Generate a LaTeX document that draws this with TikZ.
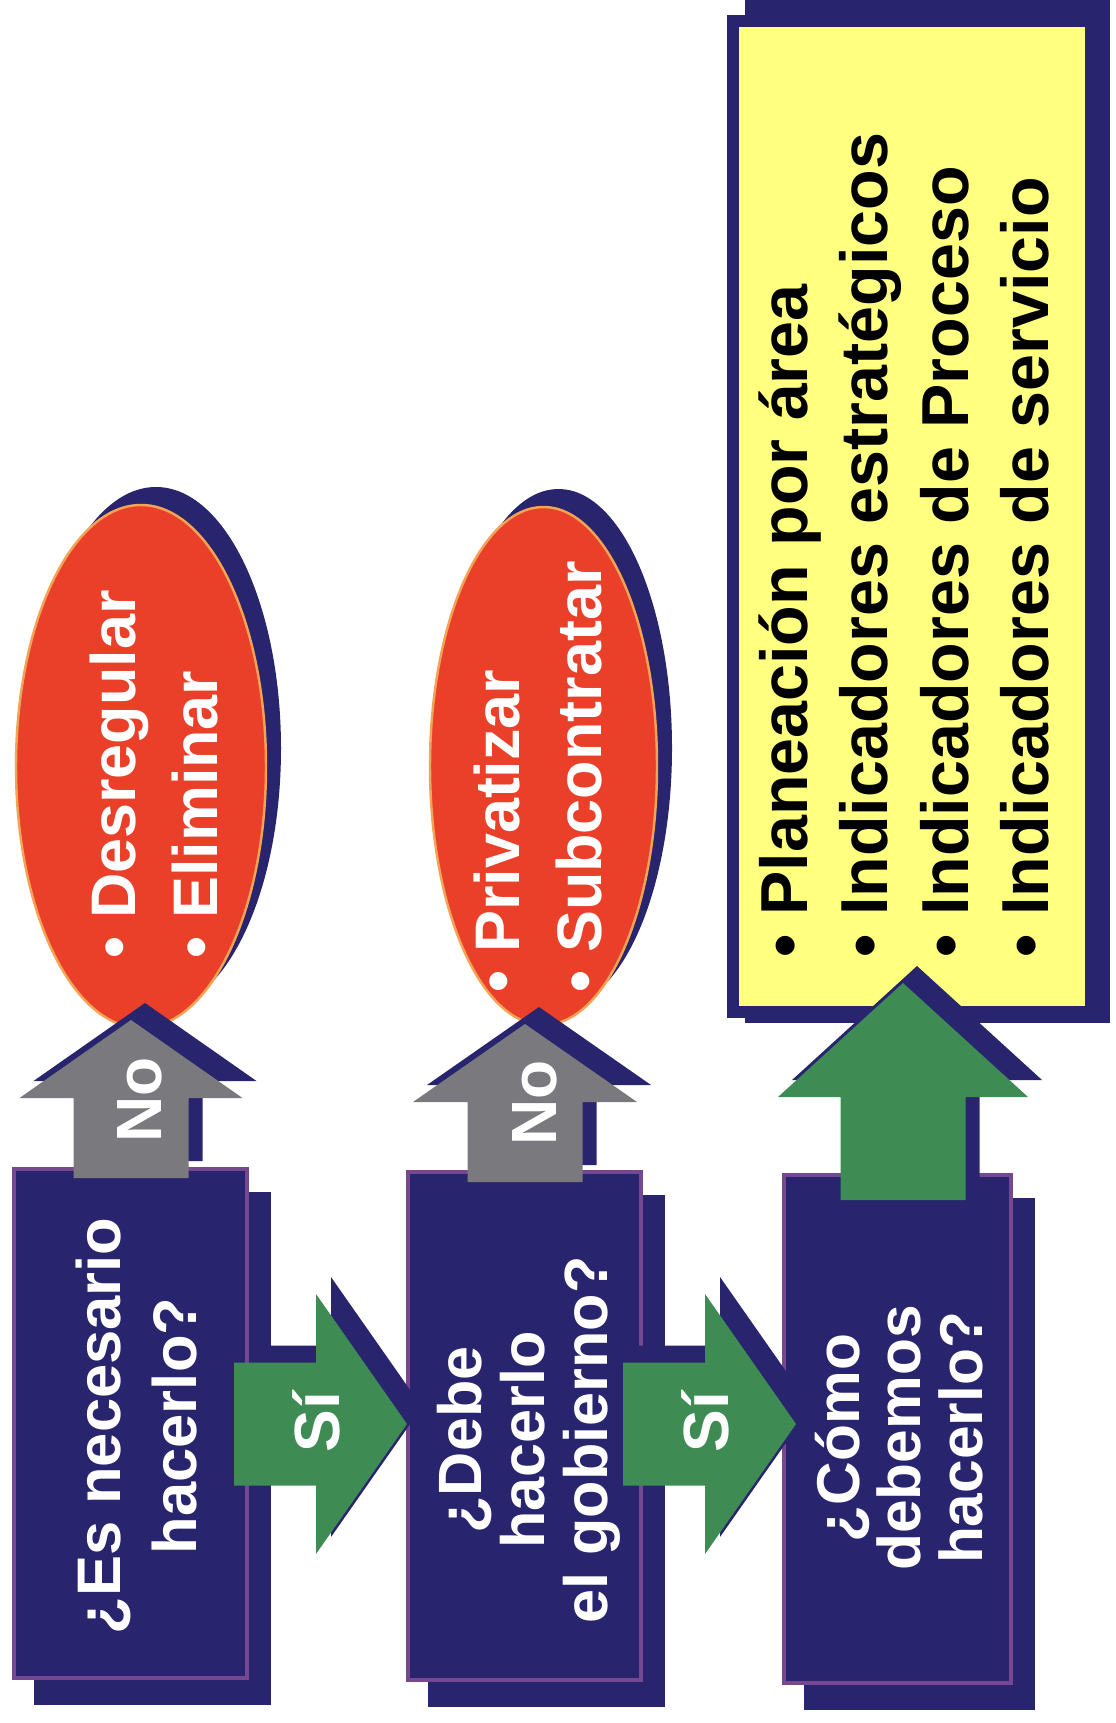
\documentclass[tikz,border=0pt]{standalone}
\usepackage{fontspec}
\setmainfont{Liberation Sans}

\definecolor{navy}{RGB}{40,37,110}
\definecolor{lilac}{RGB}{118,72,146}
\definecolor{leaf}{RGB}{62,139,84}
\definecolor{slate}{RGB}{122,122,126}
\definecolor{tomato}{RGB}{234,64,42}
\definecolor{peach}{RGB}{244,162,84}
\definecolor{lemon}{RGB}{255,255,128}

\tikzset{
  qbox/.style={fill=navy, draw=lilac, line width=1pt},
  oval/.style={fill=tomato, draw=peach, line width=0.7pt},
  listbox/.style={fill=lemon, draw=navy, line width=3.4pt},
  qtext/.style={rotate=90, text=white, align=center, inner sep=0pt},
  otext/.style={rotate=90, text=white, align=left, anchor=west, inner sep=0pt,
    font=\bfseries\fontsize{17.9}{23.3}\selectfont},
  arrtext/.style={rotate=90, text=white, inner sep=0pt,
    font=\bfseries\fontsize{18.2}{18.2}\selectfont}
}

\begin{document}
\begin{tikzpicture}[x=0.1mm, y=-0.1mm]
\useasboundingbox (0,0) rectangle (1115,1723);

%Shadows
\foreach \l/\t/\r/\b in {12/1167/249/1680, 406/1170/643/1682, 782/1173/1013/1685}
  \fill[navy] (\l+22,\t+25) rectangle (\r+22,\b+25);
\fill[navy] (156,748.5) ellipse (125 and 261.5);
\fill[navy] (558.5,748) ellipse (113.5 and 259);
\fill[navy] (745,0) rectangle (1110,1023);

%Question boxes, ovals and list
\foreach \l/\t/\r/\b in {12/1167/249/1680, 406/1170/643/1682, 782/1173/1013/1685}
  \draw[qbox] (\l+2,\t+2) rectangle (\r-2,\b-2);
\draw[oval] (141,766.5) ellipse (125 and 261.5);
\draw[oval] (543.5,766) ellipse (113.5 and 259);
\draw[listbox] (733,21) rectangle (1091,1012);

%Up arrows
\foreach \cx/\tip/\neck/\foot/\hs/\hw/\col in {131/1020/1098/1178/57.5/111.5/slate,
    525/1024/1102/1182/57.5/112/slate, 903/983/1097/1200/62.5/125/leaf}{
  \fill[navy, shift={(14,-17)}] (\cx-\hs,\foot) -- (\cx-\hs,\neck) -- (\cx-\hw,\neck)
    -- (\cx,\tip) -- (\cx+\hw,\neck) -- (\cx+\hs,\neck) -- (\cx+\hs,\foot) -- cycle;
  \fill[\col] (\cx-\hs,\foot) -- (\cx-\hs,\neck) -- (\cx-\hw,\neck)
    -- (\cx,\tip) -- (\cx+\hw,\neck) -- (\cx+\hs,\neck) -- (\cx+\hs,\foot) -- cycle;
}

%Right arrows
\foreach \sx/\neck/\tip in {234/316/407, 623/705/796}{
  \fill[navy, shift={(15,-17)}] (\sx,1362.5) -- (\neck,1362.5) -- (\neck,1294)
    -- (\tip,1424) -- (\neck,1554) -- (\neck,1485.5) -- (\sx,1485.5) -- cycle;
  \fill[leaf] (\sx,1362.5) -- (\neck,1362.5) -- (\neck,1294)
    -- (\tip,1424) -- (\neck,1554) -- (\neck,1485.5) -- (\sx,1485.5) -- cycle;
}

%Texts
\node[qtext, font=\bfseries\fontsize{17.5}{21.9}\selectfont] (q1) at (136.5,1426)
  {¿Es necesario\\hacerlo?};
\node[qtext, font=\bfseries\fontsize{17.4}{18}\selectfont] (q2) at (529,1440)
  {¿Debe\\hacerlo\\el gobierno?};
\node[qtext, font=\bfseries\fontsize{17.2}{17.6}\selectfont] (q3) at (899,1438)
  {¿Cómo\\debemos\\hacerlo?};
\node[otext] (o1) at (154,959) {• Desregular\\• Eliminar};
\node[otext] (o2) at (538,993) {• Privatizar\\• Subcontratar};
\node[otext, text=black, font=\bfseries\fontsize{18.9}{22.9}\selectfont] (list) at (904,958)
  {• Planeación por área\\• Indicadores estratégicos\\• Indicadores de Proceso\\• Indicadores de servicio};
\node[arrtext] (no1) at (140,1100) {No};
\node[arrtext] (no2) at (535,1103) {No};
\node[arrtext] (si1) at (316,1422) {Sí};
\node[arrtext] (si2) at (705,1422) {Sí};
\end{tikzpicture}
\end{document}
